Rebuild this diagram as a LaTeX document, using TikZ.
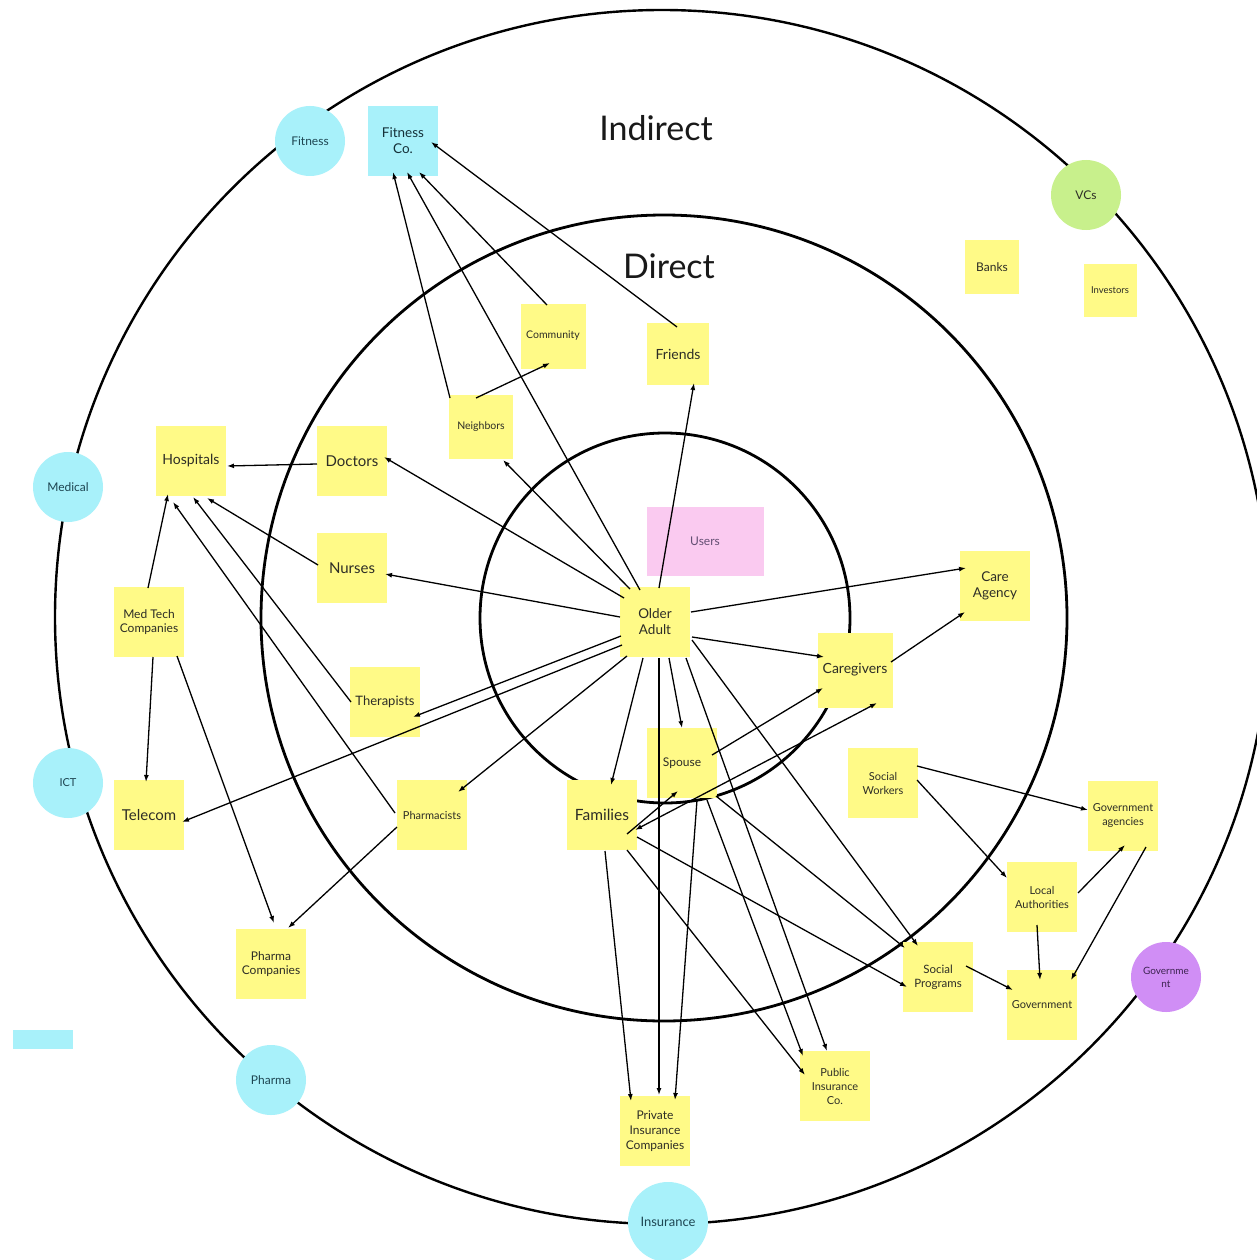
\documentclass[tikz,border=0pt]{standalone}
\usepackage{fontspec}
\setmainfont{Lato}
\usetikzlibrary{arrows.meta}

\definecolor{stickyyellow}{RGB}{255,250,135}
\definecolor{skycyan}{RGB}{168,241,250}
\definecolor{vcgreen}{RGB}{200,240,140}
\definecolor{govpurple}{RGB}{208,142,245}
\definecolor{userpink}{RGB}{250,202,240}
\definecolor{inktext}{RGB}{45,45,38}
\definecolor{tealtext}{RGB}{30,70,82}
\definecolor{plumtext}{RGB}{60,35,80}

\tikzset{
  ring/.style={draw=black, line width=2.6pt},
  note/.style={rectangle, fill=stickyyellow, text=inktext, minimum width=70pt,
    minimum height=70pt, inner sep=0pt, align=center},
  bubble/.style={circle, fill=skycyan, text=tealtext, minimum size=70pt,
    inner sep=0pt, align=center},
  fs/.style 2 args={font=\fontsize{#1}{#2}\selectfont},
  headline/.style={font=\fontsize{34}{40}\selectfont, text=black!90},
  link/.style={-{Latex[length=7pt,width=5pt]}, line width=1.3pt, draw=black},
  twoway/.style={{Latex[length=7pt,width=5pt]}-{Latex[length=7pt,width=5pt]},
    line width=1.3pt, draw=black},
}

\begin{document}
\begin{tikzpicture}[x=1pt,y=-1pt]
\useasboundingbox (0,0) rectangle (1257,1260);
\clip (0,0) rectangle (1257,1260);
\fill[white] (0,0) rectangle (1257,1260);

% stakeholder rings
\draw[ring, line width=2.4pt] (662,617) circle[radius=607];
\draw[ring, line width=2.8pt] (664,618) circle[radius=403];
\draw[ring, line width=2.8pt] (665,618) circle[radius=185];

% ring headings
\node[headline] (indirect) at (656,128) {Indirect};
\node[headline] (direct) at (669,266) {Direct};

% category markers on the outer ring
\node[bubble, fs={12}{14}] (fitcirc) at (310,141) {Fitness};
\node[bubble, fs={12}{14}] (medical) at (68,487) {Medical};
\node[bubble, fs={11}{13}] (ict) at (68,783) {ICT};
\node[bubble, fs={12}{14}] (pharmacirc) at (271,1080) {Pharma};
\node[bubble, fs={13}{15}, minimum size=80pt] (inscirc) at (668,1222) {Insurance};
\node[bubble, fill=vcgreen, text=inktext, fs={12}{14}] (vcs) at (1086,195) {VCs};
\node[bubble, fill=govpurple, text=plumtext, fs={10}{13}] (govcirc) at (1166,977) {Governme\\nt};
\node[rectangle, fill=skycyan, minimum width=60pt, minimum height=19pt, inner sep=0pt] (cyanbar) at (43,1039.5) {};

% sticky notes
\node[note, fill=skycyan, text=tealtext!70!black, fs={13.5}{16}] (fitco) at (403,141) {Fitness\\Co.};
\node[note, fs={12}{14}, minimum size=54pt] (banks) at (992,267) {Banks};
\node[note, fs={9.5}{12}, minimum size=53pt] (investors) at (1110,290) {Investors};
\node[note, fs={10.5}{13}, minimum size=65pt] (community) at (553,336) {Community};
\node[note, fs={14}{16}, minimum size=62pt] (friends) at (678,354) {Friends};
\node[note, fs={10.5}{13}, minimum size=64pt] (neighbors) at (481,427) {Neighbors};
\node[note, fs={14}{16}] (hospitals) at (191,461) {Hospitals};
\node[note, fs={15}{17}] (doctors) at (352,461) {Doctors};
\node[note, fill=userpink, text=plumtext!80, fs={12}{14}, minimum width=117pt, minimum height=69pt] (users) at (705,541) {Users};
\node[note, fs={15}{17}] (nurses) at (352,568) {Nurses};
\node[note, fs={13.5}{16}] (careag) at (995,586) {Care\\Agency};
\node[note, fs={12}{14.5}] (medtech) at (149,622) {Med Tech\\Companies};
\node[note, fs={13.5}{16}] (older) at (655,622) {Older\\Adult};
\node[note, fs={14}{16}, minimum size=75pt] (caregivers) at (855,670) {Caregivers};
\node[note, fs={13}{15}] (therapists) at (385,702) {Therapists};
\node[note, fs={12}{14}] (spouse) at (682,763) {Spouse};
\node[note, fs={11}{14}] (socwork) at (883,783) {Social\\Workers};
\node[note, fs={15}{17}] (telecom) at (149,815) {Telecom};
\node[note, fs={11}{13}] (pharmacists) at (432,815) {Pharmacists};
\node[note, fs={15.5}{18}] (families) at (602,815) {Families};
\node[note, fs={11}{14}] (govag) at (1123,816) {Government\\agencies};
\node[note, fs={11}{14}] (localauth) at (1042,897) {Local\\Authorities};
\node[note, fs={11.5}{14}] (socprog) at (938,977) {Social\\Programs};
\node[note, fs={11}{13}] (government) at (1042,1005) {Government};
\node[note, fs={12}{14.5}] (pharmaco) at (271,964) {Pharma\\Companies};
\node[note, fs={11}{14}] (pubins) at (835,1086) {Public\\Insurance\\Co.};
\node[note, fs={12}{15}] (privins) at (655,1131) {Private\\Insurance\\Companies};

% relationships
\draw[link] ([shift={(-31,-29)}]neighbors.center) -- ([shift={(-10,31)}]fitco.center);
\draw[link] ([shift={(-15,-32)}]older.center) -- ([shift={(4,31)}]fitco.center);
\draw[link] ([shift={(-6,-31)}]community.center) -- ([shift={(16,31)}]fitco.center);
\draw[link] ([shift={(-1,-27)}]friends.center) -- ([shift={(28,1)}]fitco.center);
\draw[link] ([shift={(-5,-29)}]neighbors.center) -- ([shift={(-3,27)}]community.center);
\draw[link] ([shift={(4,-34)}]older.center) -- ([shift={(16,29)}]friends.center);
\draw[link] ([shift={(-25,-33)}]older.center) -- ([shift={(22,33)}]neighbors.center);
\draw[link] ([shift={(-31,-24)}]older.center) -- ([shift={(32,-4)}]doctors.center);
\draw[link] ([shift={(-35,-5)}]older.center) -- ([shift={(33,6)}]nurses.center);
\draw[link] ([shift={(-34,14)}]older.center) -- ([shift={(28,15)}]therapists.center);
\draw[link] ([shift={(-33,23)}]older.center) -- ([shift={(33,7)}]telecom.center);
\draw[link] ([shift={(-28,34)}]older.center) -- ([shift={(26,-23)}]pharmacists.center);
\draw[link] ([shift={(-12,36)}]older.center) -- ([shift={(9,-30)}]families.center);
\draw[link] ([shift={(4,36)}]older.center) -- ([shift={(4,-36)}]privins.center);
\draw[link] ([shift={(14,36)}]older.center) -- ([shift={(0,-35)}]spouse.center);
\draw[link] ([shift={(31,36)}]older.center) -- ([shift={(-8,-35)}]pubins.center);
\draw[link] ([shift={(37,18)}]older.center) -- ([shift={(-20,-31)}]socprog.center);
\draw[link] ([shift={(36,-10)}]older.center) -- ([shift={(-29,-18)}]careag.center);
\draw[link] ([shift={(37,15)}]older.center) -- ([shift={(-31,-13)}]caregivers.center);
\draw[link] ([shift={(30,-8)}]spouse.center) -- ([shift={(-32,18)}]caregivers.center);
\draw[twoway] ([shift={(33,15)}]families.center) -- ([shift={(22,33)}]caregivers.center);
\draw[link] ([shift={(25,19)}]families.center) -- ([shift={(-4,28)}]spouse.center);
\draw[link] ([shift={(15,37)}]spouse.center) -- ([shift={(20,-31)}]privins.center);
\draw[link] ([shift={(25,37)}]spouse.center) -- ([shift={(-32,-30)}]pubins.center);
\draw[link] ([shift={(34,33)}]spouse.center) -- ([shift={(-33,-29)}]socprog.center);
\draw[link] ([shift={(3,36)}]families.center) -- ([shift={(-24,-30)}]privins.center);
\draw[link] ([shift={(25,35)}]families.center) -- ([shift={(-30,-11)}]pubins.center);
\draw[link] ([shift={(35,22)}]families.center) -- ([shift={(-31,10)}]socprog.center);
\draw[link] ([shift={(36,-8)}]caregivers.center) -- ([shift={(-30,26)}]careag.center);
\draw[link] ([shift={(-35,3)}]doctors.center) -- ([shift={(36,5)}]hospitals.center);
\draw[link] ([shift={(-34,-3)}]nurses.center) -- ([shift={(16,37)}]hospitals.center);
\draw[link] ([shift={(-34,0)}]therapists.center) -- ([shift={(2,36)}]hospitals.center);
\draw[link] ([shift={(-37,-2)}]pharmacists.center) -- ([shift={(-18,41)}]hospitals.center);
\draw[link] ([shift={(-1,-34)}]medtech.center) -- ([shift={(-23,33)}]hospitals.center);
\draw[link] ([shift={(4,35)}]medtech.center) -- ([shift={(-3,-33)}]telecom.center);
\draw[link] ([shift={(28,34)}]medtech.center) -- ([shift={(3,-41)}]pharmaco.center);
\draw[link] ([shift={(-35,12)}]pharmacists.center) -- ([shift={(17,-36)}]pharmaco.center);
\draw[link] ([shift={(34,-17)}]socwork.center) -- ([shift={(-35,-6)}]govag.center);
\draw[link] ([shift={(34,-3)}]socwork.center) -- ([shift={(-35,-19)}]localauth.center);
\draw[link] ([shift={(36,-4)}]localauth.center) -- ([shift={(2,29)}]govag.center);
\draw[link] ([shift={(23,31)}]govag.center) -- ([shift={(29,-25)}]government.center);
\draw[link] ([shift={(-5,28)}]localauth.center) -- ([shift={(-2,-25)}]government.center);
\draw[link] ([shift={(28,-11)}]socprog.center) -- ([shift={(-29,-15)}]government.center);
\end{tikzpicture}
\end{document}
